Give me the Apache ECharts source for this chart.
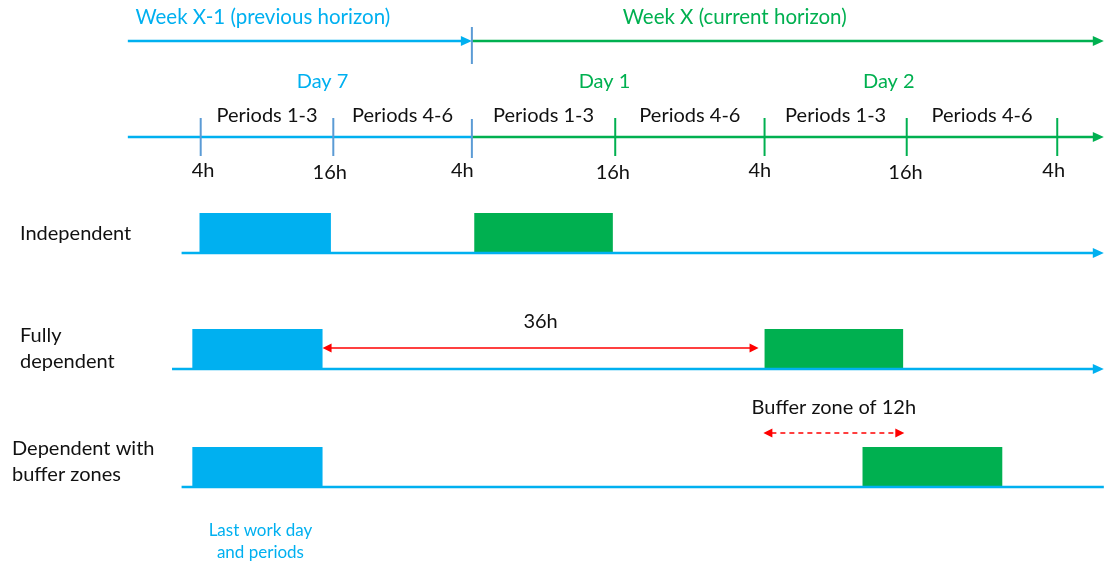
<!DOCTYPE html>
<html><head><meta charset="utf-8">
<script src="https://cdn.jsdelivr.net/npm/echarts@6/dist/echarts.min.js"></script>
<style>html,body{margin:0;padding:0;background:#fff}#c{width:1111px;height:564px}</style>
</head><body><div id="c"></div>
<script>
// ---------------- data (hours on the shared time scale) ----------------
const horizonLabels = ['Week X-1 (previous horizon)', 'Week X (current horizon)'];
const horizonLabelHours = [10.0, 49.5];
const horizonStart = -1.3, horizonSplit = 27.5, horizonEnd = 80.4;
const tickHours = [4.8, 15.9, 27.5, 39.5, 52.0, 63.9, 76.5];
const tickLabels = ['4h', '16h', '4h', '16h', '4h', '16h', '4h'];
const tickLabelHours = [5.0, 15.6, 26.7, 39.3, 51.6, 63.8, 76.2];
const periodLabels = ['Periods 1-3', 'Periods 4-6', 'Periods 1-3', 'Periods 4-6', 'Periods 1-3', 'Periods 4-6'];
const dayLabels = ['Day 7', 'Day 1', 'Day 2'];
const dayHours = [15.0, 38.6, 62.4];
const rowNames = ['Independent', 'Fully\ndependent', 'Dependent with\nbuffer zones'];
const rowLineStart = [3.2, 2.4, 3.2];
const prevBlocks = [[4.7, 15.7], [4.1, 15.0], [4.1, 15.0]];
const currBlocks = [[27.7, 39.3], [52.0, 63.6], [60.2, 71.9]];
const gapArrow = [15.0, 51.5];
const gapLabel = '36h';
const bufferArrow = [51.9, 63.7];
const bufferLabel = 'Buffer zone of 12h';
const noteLabel = 'Last work day\nand periods';
const noteHour = 9.8;

// ---------------- layout & style ----------------
const FONT = 'Lato, "Open Sans", sans-serif';
const C = { blue: '#00B0F0', green: '#00B050', tick: '#5B9BD5', red: '#FF0000', text: '#111111' };
const L = {
  horizonY: 41, horizonLabelY: 17, topTick: [27, 64],
  dayLineY: 137, dayLabelY: 82, periodY: 116, tickLabelY: 171, tick: [118, 156], splitTick: [119, 158],
  rowBase: [253, 369, 487], rowLabelY: [234, 349, 462], rowLabelX: [20, 20, 12], barH: 40,
  rowArrow: [true, true, false], gapY: 348, gapLabelY: 322, bufY: 433, bufLabelY: 408, noteY: 542
};
const FS = 20;

// ---------------- build element lists from data ----------------
const segs = [];
const rects = [];
const texts = [];
function addSeg(h0, h1, y, color, width, arrowEnd, arrowStart, dash) {
  segs.push({ h0, h1, y, color, width, arrowEnd, arrowStart, dash });
}
addSeg(horizonStart, horizonSplit, L.horizonY, C.blue, 2.5, true, false);
addSeg(horizonSplit, horizonEnd, L.horizonY, C.green, 2.5, true, false);
segs.push({ h0: horizonSplit, h1: horizonSplit, y0: L.topTick[0], y1: L.topTick[1], color: C.tick, width: 2, vertical: true });
addSeg(horizonStart, horizonSplit, L.dayLineY, C.blue, 2.5, false, false);
addSeg(horizonSplit, horizonEnd, L.dayLineY, C.green, 2.5, true, false);
tickHours.forEach((h, i) => {
  const prev = h <= horizonSplit + 0.01;
  const ext = i === 2 ? L.splitTick : L.tick;
  segs.push({ h0: h, h1: h, y0: ext[0], y1: ext[1], color: prev ? C.tick : C.green, width: 2, vertical: true });
  texts.push({ h: tickLabelHours[i], y: L.tickLabelY + (tickLabels[i] === '16h' ? 2 : 0), text: tickLabels[i], color: C.text, size: FS });
});
periodLabels.forEach((t, i) => texts.push({ h: (tickHours[i] + tickHours[i + 1]) / 2, y: L.periodY, text: t, color: C.text, size: FS }));
dayLabels.forEach((t, i) => texts.push({ h: dayHours[i], y: L.dayLabelY, text: t, color: i === 0 ? C.blue : C.green, size: FS }));
horizonLabels.forEach((t, i) => texts.push({ h: horizonLabelHours[i], y: L.horizonLabelY, text: t, color: i === 0 ? C.blue : C.green, size: 20.5 }));
rowNames.forEach((n, r) => {
  addSeg(rowLineStart[r], horizonEnd, L.rowBase[r], C.blue, 2.5, L.rowArrow[r], false);
  rects.push({ h0: prevBlocks[r][0], h1: prevBlocks[r][1], y: L.rowBase[r], color: C.blue });
  rects.push({ h0: currBlocks[r][0], h1: currBlocks[r][1], y: L.rowBase[r], color: C.green });
});
addSeg(gapArrow[0], gapArrow[1], L.gapY, C.red, 1.5, true, true);
texts.push({ h: (gapArrow[0] + gapArrow[1]) / 2, y: L.gapLabelY, text: gapLabel, color: C.text, size: FS });
addSeg(bufferArrow[0], bufferArrow[1], L.bufY, C.red, 1.5, true, true, [5, 4]);
texts.push({ h: (bufferArrow[0] + bufferArrow[1]) / 2, y: L.bufLabelY, text: bufferLabel, color: C.text, size: FS });
texts.push({ h: noteHour, y: L.noteY, text: noteLabel, color: C.blue, size: 17, lh: 22 });

// ---------------- render ----------------
function arrowHead(tipX, y, dir, color, len, half) {
  return { type: 'polygon', shape: { points: [[tipX, y], [tipX - dir * len, y - half], [tipX - dir * len, y + half]] }, style: { fill: color } };
}
function series(name, items, draw) {
  return {
    type: 'custom', name, coordinateSystem: 'cartesian2d', silent: true, animation: false,
    data: items.map((it, i) => [it.h0 !== undefined ? it.h0 : it.h, it.h1 !== undefined ? it.h1 : it.h, i]),
    encode: { x: [0, 1], y: 2 },
    renderItem: (params, api) => draw(items[api.value(2)], api)
  };
}
const X = (api, h) => api.coord([h, 0])[0];
const Y = (api, y) => api.coord([0, y])[1];

const option = {
  backgroundColor: '#fff',
  animation: false,
  grid: { left: 0, right: 0, top: 0, bottom: 0 },
  xAxis: { type: 'value', min: -12, max: 81, show: false },
  yAxis: { type: 'value', min: 0, max: 564, inverse: true, show: false },
  graphic: rowNames.map((n, r) => ({
    type: 'text', left: L.rowLabelX[r], top: L.rowLabelY[r] - (n.includes('\n') ? 26 : 13),
    style: { text: n, fill: C.text, font: FS + 'px ' + FONT, lineHeight: 26 }, silent: true
  })),
  series: [
    series('blocks', rects, (it, api) => {
      const x0 = X(api, it.h0), x1 = X(api, it.h1), yb = Y(api, it.y);
      return { type: 'rect', shape: { x: x0, y: yb - L.barH, width: x1 - x0, height: L.barH }, style: { fill: it.color } };
    }),
    series('lines', segs, (it, api) => {
      const x0 = X(api, it.h0), x1 = X(api, it.h1);
      if (it.vertical) {
        return { type: 'line', shape: { x1: x0, y1: Y(api, it.y0), x2: x0, y2: Y(api, it.y1) }, style: { stroke: it.color, lineWidth: it.width } };
      }
      const y = Y(api, it.y);
      const big = it.width > 2;
      const len = big ? 11 : 9, half = big ? 5 : 4.5;
      const children = [{ type: 'line', shape: { x1: x0 + (it.arrowStart ? len - 1 : 0), y1: y, x2: x1 - (it.arrowEnd ? len - 1 : 0), y2: y },
        style: { stroke: it.color, lineWidth: it.width, lineDash: it.dash || null } }];
      if (it.arrowEnd) children.push(arrowHead(x1, y, 1, it.color, len, half));
      if (it.arrowStart) children.push(arrowHead(x0, y, -1, it.color, len, half));
      return { type: 'group', children };
    }),
    series('texts', texts, (it, api) => ({
      type: 'text',
      style: { text: it.text, x: X(api, it.h), y: Y(api, it.y), fill: it.color, font: it.size + 'px ' + FONT,
        align: 'center', verticalAlign: 'middle', lineHeight: it.lh || 26 }
    }))
  ]
};
const chart = echarts.init(document.getElementById('c'));
chart.setOption(option);
</script></body></html>
